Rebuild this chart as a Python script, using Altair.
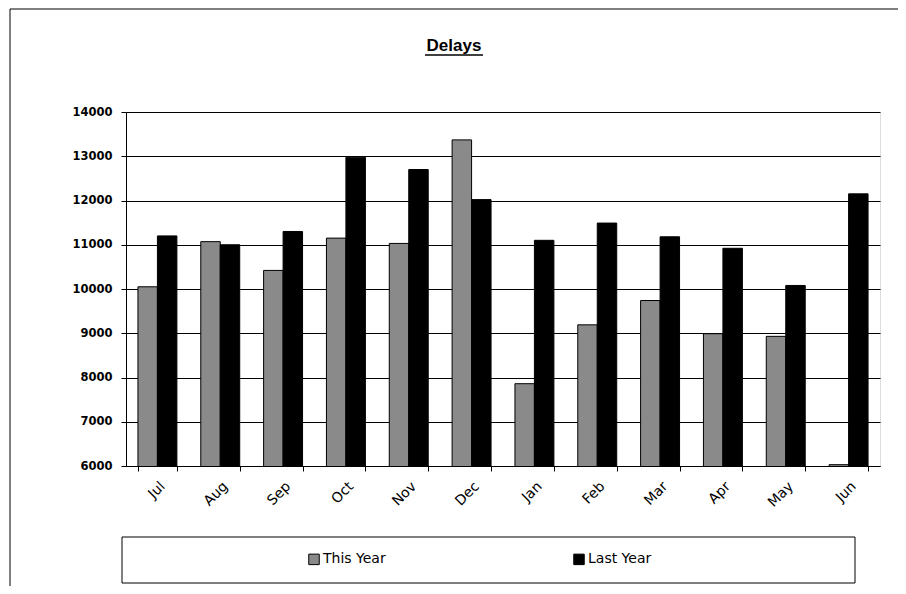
import altair as alt
import pandas as pd

months = ["Jul", "Aug", "Sep", "Oct", "Nov", "Dec", "Jan", "Feb", "Mar", "Apr", "May", "Jun"]
this_year = [10050, 11070, 10420, 11150, 11030, 13370, 7860, 9190, 9740, 8990, 8930, 6030]
last_year = [11200, 11000, 11300, 12980, 12700, 12020, 11100, 11490, 11180, 10920, 10080, 12150]
series = ["This Year", "Last Year"]
y_ticks = [6000, 7000, 8000, 9000, 10000, 11000, 12000, 13000, 14000]

rows = []
for m, t, l in zip(months, this_year, last_year):
    rows.append({"Month": m, "Series": series[0], "Value": t})
    rows.append({"Month": m, "Series": series[1], "Value": l})
df = pd.DataFrame(rows)
one = pd.DataFrame({"a": [0]})

W, H = 754, 354

bars = alt.Chart(df).mark_bar(stroke="black", strokeWidth=1, clip=True).encode(
    x=alt.X("Month:N", sort=months,
            scale=alt.Scale(paddingInner=0.38, paddingOuter=0.19),
            axis=alt.Axis(title=None, labelAngle=-45, tickBand="extent",
                          labelFont="DejaVu Sans", labelFontSize=14, labelColor="black",
                          domainColor="black", tickColor="black", tickSize=5,
                          labelPadding=8, grid=False)),
    xOffset=alt.XOffset("Series:N", sort=series),
    y=alt.Y("Value:Q", scale=alt.Scale(domain=[6000, 14000], zero=False, nice=False),
            axis=alt.Axis(title=None, values=y_ticks, format="d", grid=True,
                          gridColor="black", gridOpacity=1, gridWidth=1,
                          labelFont="DejaVu Sans", labelFontSize=11.5, labelFontWeight="bold",
                          labelColor="black", domainColor="black", tickColor="black",
                          tickSize=5, labelPadding=9)),
    color=alt.Color("Series:N", sort=series,
                    scale=alt.Scale(domain=series, range=["#8a8a8a", "#000000"]),
                    legend=alt.Legend(title=None, orient="none", legendX=181, legendY=440,
                                      direction="horizontal", symbolType="square",
                                      symbolSize=110, symbolStrokeColor="black",
                                      symbolStrokeWidth=1, labelFont="DejaVu Sans",
                                      labelFontSize=14, labelColor="black",
                                      columnPadding=185, labelOffset=2)),
)

frame = alt.Chart(one).mark_rect(fillOpacity=0, stroke="black", strokeWidth=1).encode(
    x=alt.value(-116), x2=alt.value(774), y=alt.value(-103), y2=alt.value(478))

legend_box = alt.Chart(one).mark_rect(fillOpacity=0, stroke="black", strokeWidth=1).encode(
    x=alt.value(-4), x2=alt.value(729), y=alt.value(425), y2=alt.value(471))

title = alt.Chart(one).mark_text(text="Delays", font="Liberation Sans", fontSize=17,
                                  fontWeight="bold", align="center", baseline="alphabetic",
                                  color="black").encode(
    x=alt.value(328), y=alt.value(-61))

underline = alt.Chart(one).mark_rule(color="black", strokeWidth=1.5).encode(
    x=alt.value(299), x2=alt.value(357), y=alt.value(-57))

chart = alt.layer(frame, legend_box, bars, title, underline).properties(
    width=W, height=H,
    padding={"left": 118, "top": 104, "right": 18, "bottom": 120},
    autosize=alt.AutoSizeParams(type="none"),
).configure_view(stroke=None).configure(background="white")

chart.save("out.html", embed_options={"renderer": "svg", "actions": False})
